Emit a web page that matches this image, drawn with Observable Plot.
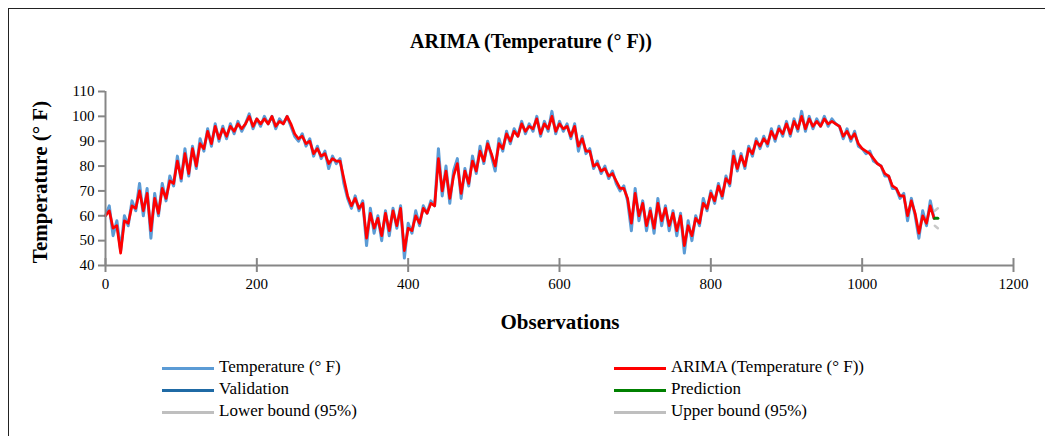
<!DOCTYPE html>
<html>
<head>
<meta charset="utf-8">
<script src="https://cdn.jsdelivr.net/npm/d3@7"></script>
<script src="https://cdn.jsdelivr.net/npm/@observablehq/plot@0.6"></script>
<style>
  html, body { margin: 0; padding: 0; background: #fff; }
  #wrap { position: relative; width: 1045px; height: 436px; overflow: hidden; font-family: "Liberation Serif", "Times New Roman", Times, "DejaVu Serif", serif; color: #000; }
  #border { position: absolute; left: 8px; top: 8px; width: 1060px; height: 440px; border-top: 1px solid #222; border-left: 1px solid #222; }
  #title { position: absolute; left: 0; width: 1062px; top: 30px; text-align: center; font-weight: bold; font-size: 20px; }
  #ylab { position: absolute; left: 40px; top: 182px; transform: translate(-50%, -50%) rotate(-90deg); white-space: nowrap; font-weight: bold; font-size: 21px; }
  #xlab { position: absolute; left: 0; width: 1120px; top: 310px; text-align: center; font-weight: bold; font-size: 21px; }
  .leg { position: absolute; font-size: 17px; white-space: nowrap; }
  .leg span.sw { position: absolute; left: 0; top: 10px; width: 52px; height: 3px; }
  .leg span.tx { position: absolute; left: 57px; top: 0; }
  #plot { position: absolute; left: 0; top: 0; }
</style>
</head>
<body>
<div id="wrap">
  <div id="border"></div>
  <div id="plot"></div>
  <div id="title"></div>
  <div id="ylab"></div>
  <div id="xlab"></div>
  <div id="legend"></div>
</div>
<script>
const titleText = "ARIMA (Temperature (° F))";
const yLabel = "Temperature (° F)";
const xLabel = "Observations";
const xTicks = [0, 200, 400, 600, 800, 1000, 1200];
const yTicks = [40, 50, 60, 70, 80, 90, 100, 110];
const obsStep = 5; // observation spacing of the sampled values below

const temperature = [
  60,64,52,58,46,60,56,66,62,73, 60,71,51,69,60,73,66,76,72,84,
  74,87,76,88,79,91,86,95,88,97, 90,96,91,97,93,98,94,97,101,95,
  99,96,100,97,100,95,99,97,100,96, 92,90,93,88,91,84,88,83,86,79,
  84,81,83,73,67,63,68,62,66,48, 63,53,60,50,62,52,63,55,64,43,
  57,53,62,56,64,61,66,64,87,68, 80,65,78,83,67,79,72,84,77,88,
  81,90,84,78,91,86,94,89,95,92, 98,93,97,94,100,92,98,94,102,93,
  98,94,97,91,97,86,92,85,87,79, 82,77,80,75,78,73,70,72,66,54,
  71,58,66,54,63,53,67,56,64,54, 62,52,61,45,58,50,60,56,67,62,
  70,65,73,67,76,72,86,78,85,79, 88,84,91,87,92,88,95,90,96,92,
  98,92,99,94,102,94,100,95,99,96, 100,96,99,97,96,91,95,90,94,88,
  87,85,86,82,81,80,76,76,71,71, 67,69,58,67,60,51,62,56,66,59
];

const arima = [
  60,62,55,56,45,58,57,64,63,70, 62,69,54,67,61,71,67,74,73,82,
  75,85,77,87,80,89,87,94,89,96, 91,95,92,96,94,97,95,97,100,96,
  99,97,99,97,100,96,98,97,100,97, 93,91,92,89,90,85,87,84,85,81,
  83,82,82,75,68,64,67,63,65,51, 61,55,59,52,61,54,62,56,63,46,
  55,54,60,57,63,61,65,64,83,70, 78,67,76,81,69,78,73,82,78,86,
  82,89,85,80,89,87,93,90,94,92, 97,94,96,95,99,93,97,95,100,94,
  97,95,96,92,96,88,91,86,86,80, 81,78,79,76,77,74,71,71,67,57,
  69,60,65,56,62,55,65,58,63,56, 61,54,60,48,56,52,59,57,65,63,
  69,66,72,68,75,73,84,79,84,80, 87,85,90,88,91,89,94,91,95,93,
  97,93,98,95,100,95,99,96,98,96, 99,97,98,97,96,92,94,91,93,89,
  87,86,85,83,81,80,77,76,72,71, 68,68,60,66,61,53,60,57,64,59
];

const predObs = [1096, 1100];
const prediction = [59, 59];
const lowerBound = [56, 55];
const upperBound = [62, 63];

const legendItems = [
  {label: "Temperature (° F)", color: "#5b9bd5", col: 0, row: 0},
  {label: "ARIMA (Temperature (° F))", color: "#ff0000", col: 1, row: 0},
  {label: "Validation", color: "#1f6aa5", col: 0, row: 1},
  {label: "Prediction", color: "#008000", col: 1, row: 1},
  {label: "Lower bound (95%)", color: "#bfbfbf", col: 0, row: 2},
  {label: "Upper bound (95%)", color: "#bfbfbf", col: 1, row: 2}
];

const tempData = temperature.map((v, i) => ({obs: i * obsStep, v}));
const arimaData = arima.map((v, i) => ({obs: i * obsStep, v}));
const predData = predObs.map((o, i) => ({obs: o, v: prediction[i], lo: lowerBound[i], hi: upperBound[i]}));

const axisColor = "#868686";
const serif = "'Liberation Serif', 'Times New Roman', Times, 'DejaVu Serif', serif";

const chart = Plot.plot({
  width: 1045,
  height: 436,
  marginLeft: 105,
  marginRight: 32,
  marginTop: 91,
  marginBottom: 171,
  x: {domain: [0, 1200]},
  y: {domain: [40, 110]},
  style: {fontFamily: serif, fontSize: "15px", color: "#000", background: "transparent", overflow: "visible"},
  marks: [
    Plot.axisY({ticks: yTicks, tickSize: 7, tickPadding: 4, label: null, stroke: axisColor, strokeWidth: 2, tickFormat: d => String(d), fill: "#000", fontFamily: serif, fontSize: 15}),
    Plot.axisX({ticks: xTicks, tickSize: 7, tickPadding: 6, label: null, stroke: axisColor, strokeWidth: 2, tickFormat: d => String(d), fill: "#000", fontFamily: serif, fontSize: 15}),
    Plot.ruleX(xTicks, {y1: 40, y2: 42.8, stroke: axisColor, strokeWidth: 2, clip: false}),
    Plot.line(tempData, {x: "obs", y: "v", stroke: "#5b9bd5", strokeWidth: 3}),
    Plot.line(arimaData, {x: "obs", y: "v", stroke: "#ff0000", strokeWidth: 2.7}),
    Plot.line(predData, {x: "obs", y: "lo", stroke: "#c8c8c8", strokeWidth: 2.5}),
    Plot.line(predData, {x: "obs", y: "hi", stroke: "#c8c8c8", strokeWidth: 2.5}),
    Plot.line(predData, {x: "obs", y: "v", stroke: "#008000", strokeWidth: 3}),
    Plot.ruleY([40], {stroke: axisColor, strokeWidth: 2}),
    Plot.ruleX([0], {stroke: axisColor, strokeWidth: 2})
  ]
});
document.getElementById("plot").appendChild(chart);

document.getElementById("title").textContent = titleText;
document.getElementById("ylab").textContent = yLabel;
document.getElementById("xlab").textContent = xLabel;

const legend = document.getElementById("legend");
const colX = [162, 614];
const rowY = [357, 379, 401];
legendItems.forEach(it => {
  const d = document.createElement("div");
  d.className = "leg";
  d.style.left = colX[it.col] + "px";
  d.style.top = rowY[it.row] + "px";
  const sw = document.createElement("span");
  sw.className = "sw";
  sw.style.background = it.color;
  const tx = document.createElement("span");
  tx.className = "tx";
  tx.textContent = it.label;
  d.appendChild(sw);
  d.appendChild(tx);
  legend.appendChild(d);
});
</script>
</body>
</html>
